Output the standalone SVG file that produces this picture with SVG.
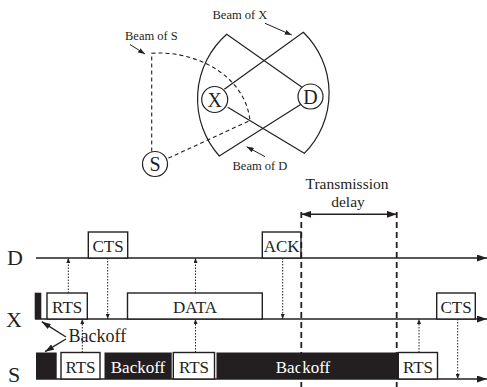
<svg xmlns="http://www.w3.org/2000/svg" width="487" height="387" viewBox="0 0 487 387">
  <style>
    text { font-family: "Liberation Serif", "Times New Roman", serif; fill: #231f20; }
    .beam { fill: none; stroke: #231f20; stroke-width: 1.2; }
    .beamS { fill: none; stroke: #231f20; stroke-width: 1.1; stroke-dasharray: 4 3; }
    .node { fill: #fff; stroke: #231f20; stroke-width: 1.2; }
    .nodet { font-size: 20px; text-anchor: middle; }
    .lbl { font-size: 12.5px; }
    .ptr { stroke: #231f20; stroke-width: 1; marker-end: url(#ptrHead); }
    .axis { stroke: #231f20; stroke-width: 1.5; marker-end: url(#axisHead); }
    .row { font-size: 22px; }
    .box { fill: #fff; stroke: #231f20; stroke-width: 1.4; }
    .blk { fill: #231f20; }
    .boxt { font-size: 17px; text-anchor: middle; }
    .wt { fill: #fff; }
    .dot { fill: none; stroke: #231f20; stroke-width: 1; stroke-dasharray: 1.5 1.5; marker-end: url(#dotHead); }
    .delay { stroke: #231f20; stroke-width: 1.8; stroke-dasharray: 6 4; }
    .span { stroke: #231f20; stroke-width: 1.5; marker-start: url(#spanStart); marker-end: url(#axisHead); }
    .bo { stroke: #231f20; stroke-width: 1.4; marker-end: url(#boHead); }
    .cap { font-size: 15.5px; text-anchor: middle; }
  </style>
  <defs>
    <marker id="axisHead" markerUnits="userSpaceOnUse" markerWidth="10" markerHeight="7" refX="10" refY="3.5" orient="auto">
      <path d="M0,0 L10,3.5 L0,7 z" fill="#231f20"/>
    </marker>
    <marker id="spanStart" markerUnits="userSpaceOnUse" markerWidth="10" markerHeight="7" refX="0" refY="3.5" orient="auto">
      <path d="M10,0 L0,3.5 L10,7 z" fill="#231f20"/>
    </marker>
    <marker id="dotHead" markerUnits="userSpaceOnUse" markerWidth="5" markerHeight="4" refX="5" refY="2" orient="auto">
      <path d="M0,0 L5,2 L0,4 z" fill="#231f20"/>
    </marker>
    <marker id="ptrHead" markerUnits="userSpaceOnUse" markerWidth="7" markerHeight="5" refX="7" refY="2.5" orient="auto">
      <path d="M0,0 L7,2.5 L0,5 z" fill="#231f20"/>
    </marker>
    <marker id="boHead" markerUnits="userSpaceOnUse" markerWidth="9" markerHeight="6" refX="9" refY="3" orient="auto">
      <path d="M0,0 L9,3 L0,6 z" fill="#231f20"/>
    </marker>
  </defs>

  <!-- antenna beams -->
  <g id="beams">
    <path id="beam-x" class="beam" d="M224.3,89.3 L303.3,32.3 A85,85 0 0 1 304.3,153.3 L227.7,107.3"/>
    <path id="beam-d" class="beam" d="M302.7,87.7 L226.7,34.3 A86,86 0 0 0 219.3,156 L301,104.3"/>
    <path id="beam-s" class="beamS" d="M151.7,151.5 L151.7,53.3 C195,50 245,75 250,120.5 L166.5,159"/>
  </g>

  <!-- stations -->
  <g id="node-x">
    <circle class="node" cx="214.7" cy="99.5" r="13"/>
    <text class="nodet" x="214.7" y="106.5">X</text>
  </g>
  <g id="node-d">
    <circle class="node" cx="310.5" cy="96.5" r="12.5"/>
    <text class="nodet" x="310.5" y="103.5">D</text>
  </g>
  <g id="node-s">
    <circle class="node" cx="155" cy="164" r="12.5"/>
    <text class="nodet" x="155" y="171">S</text>
  </g>

  <!-- beam labels -->
  <g id="beam-labels">
    <text class="lbl" x="212.5" y="19">Beam of X</text>
    <line class="ptr" x1="265" y1="23.3" x2="291.7" y2="35"/>
    <text class="lbl" x="125" y="40">Beam of S</text>
    <line class="ptr" x1="130" y1="44.5" x2="145" y2="54"/>
    <text class="lbl" x="232.5" y="170">Beam of D</text>
    <line class="ptr" x1="265" y1="156.7" x2="246.7" y2="146.7"/>
  </g>

  <!-- time axes -->
  <g id="axes">
    <line class="axis" x1="36" y1="258" x2="487" y2="258"/>
    <line class="axis" x1="35" y1="319" x2="487" y2="319"/>
    <line class="axis" x1="36" y1="379" x2="487" y2="379"/>
    <text class="row" x="7" y="265">D</text>
    <text class="row" x="6" y="327">X</text>
    <text class="row" x="8" y="382">S</text>
  </g>

  <!-- frames on D -->
  <g id="frames-d">
    <rect class="box" x="88.3" y="232" width="39.4" height="26"/>
    <text class="boxt" x="108" y="252.3">CTS</text>
    <rect class="box" x="262.3" y="232" width="38.7" height="26"/>
    <text class="boxt" x="281.7" y="252.3">ACK</text>
  </g>

  <!-- frames on X -->
  <g id="frames-x">
    <rect class="blk" x="34.7" y="292.7" width="6.6" height="26.3"/>
    <rect class="box" x="47" y="293" width="40.3" height="26"/>
    <text class="boxt" x="67.2" y="313">RTS</text>
    <rect class="box" x="127.5" y="293" width="134.8" height="26"/>
    <text class="boxt" x="195" y="313">DATA</text>
    <rect class="box" x="436.7" y="293" width="38.6" height="26"/>
    <text class="boxt" x="456" y="313">CTS</text>
  </g>

  <!-- frames on S -->
  <g id="frames-s">
    <rect class="blk" x="36" y="352.5" width="20.7" height="26.5"/>
    <rect class="box" x="61" y="352.5" width="39" height="26.5"/>
    <text class="boxt" x="80.5" y="372.5">RTS</text>
    <rect class="blk" x="104.5" y="352.5" width="67.2" height="26.5"/>
    <text class="boxt wt" x="138" y="372.5">Backoff</text>
    <rect class="box" x="173.3" y="352.5" width="41.2" height="26.5"/>
    <text class="boxt" x="194" y="372.5">RTS</text>
    <rect class="blk" x="216.5" y="352.5" width="181.8" height="26.5"/>
    <text class="boxt wt" x="303" y="372.5">Backoff</text>
    <rect class="box" x="398.3" y="352.5" width="39.2" height="26.5"/>
    <text class="boxt" x="418" y="372.5">RTS</text>
  </g>

  <!-- backoff callout -->
  <g id="backoff-label">
    <text x="68.5" y="341.5" style="font-size:18px">Backoff</text>
    <line class="bo" x1="66" y1="337" x2="41.7" y2="321.7"/>
    <line class="bo" x1="66" y1="339" x2="45" y2="351.7"/>
  </g>

  <!-- transmission delay -->
  <g id="delay">
    <text class="cap" x="347" y="189">Transmission</text>
    <text class="cap" x="348" y="206.5">delay</text>
    <line class="delay" x1="301.3" y1="212" x2="301.3" y2="387"/>
    <line class="delay" x1="396.7" y1="212" x2="396.7" y2="387"/>
    <line class="span" x1="301.3" y1="214.3" x2="396.7" y2="214.3"/>
  </g>

  <!-- frame reception -->
  <g id="connectors">
    <line class="dot" x1="68.3" y1="293" x2="68.3" y2="258"/>
    <line class="dot" x1="107.7" y1="258" x2="107.7" y2="319"/>
    <line class="dot" x1="82.3" y1="352.5" x2="82.3" y2="319"/>
    <line class="dot" x1="195.5" y1="293" x2="195.5" y2="258"/>
    <line class="dot" x1="195.5" y1="352.5" x2="195.5" y2="319"/>
    <line class="dot" x1="282.7" y1="258" x2="282.7" y2="319"/>
    <line class="dot" x1="419" y1="352.5" x2="419" y2="319"/>
    <line class="dot" x1="457.7" y1="319" x2="457.7" y2="379"/>
  </g>
</svg>
